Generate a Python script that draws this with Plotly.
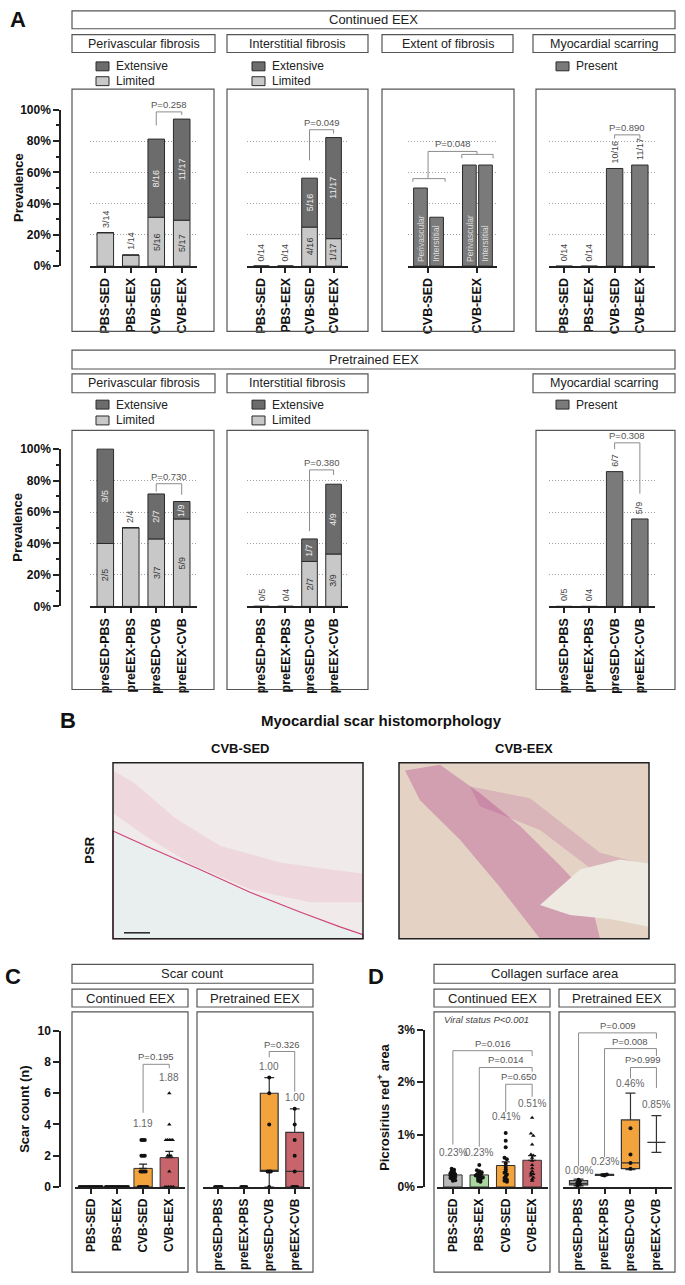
import plotly.graph_objects as go

W, H = 685, 1285
FONT = "Liberation Sans"

# ---------------- data ----------------
cont_groups = ["PBS-SED", "PBS-EEX", "CVB-SED", "CVB-EEX"]
pre_groups = ["preSED-PBS", "preEEX-PBS", "preSED-CVB", "preEEX-CVB"]

# A: prevalence (%) - continued EEX
peri_cont_limited = [21.4, 7.1, 31.3, 29.4]
peri_cont_extensive = [0, 0, 50.0, 64.7]
peri_cont_limited_n = ["3/14", "1/14", "5/16", "5/17"]
peri_cont_extensive_n = ["", "", "8/16", "11/17"]

inter_cont_limited = [0, 0, 25.0, 17.6]
inter_cont_extensive = [0, 0, 31.3, 64.7]
inter_cont_limited_n = ["0/14", "0/14", "4/16", "1/17"]
inter_cont_extensive_n = ["", "", "5/16", "11/17"]

extent_groups = ["CVB-SED", "CVB-EEX"]
extent_peri = [50.0, 64.7]
extent_inter = [31.3, 64.7]
extent_names = ["Perivascular", "Interstitial"]

scar_cont = [0, 0, 62.5, 64.7]
scar_cont_n = ["0/14", "0/14", "10/16", "11/17"]

# A: prevalence (%) - pretrained EEX
peri_pre_limited = [40.0, 50.0, 42.9, 55.6]
peri_pre_extensive = [60.0, 0, 28.6, 11.1]
peri_pre_limited_n = ["2/5", "2/4", "3/7", "5/9"]
peri_pre_extensive_n = ["3/5", "", "2/7", "1/9"]

inter_pre_limited = [0, 0, 28.6, 33.3]
inter_pre_extensive = [0, 0, 14.3, 44.4]
inter_pre_limited_n = ["0/5", "0/4", "2/7", "3/9"]
inter_pre_extensive_n = ["", "", "1/7", "4/9"]

scar_pre = [0, 0, 85.7, 55.6]
scar_pre_n = ["0/5", "0/4", "6/7", "5/9"]

# C: scar count
scar_count_cont_pts = [
    [0, 0, 0, 0, 0, 0, 0, 0, 0, 0, 0, 0, 0, 0],
    [0, 0, 0, 0, 0, 0, 0, 0, 0, 0, 0, 0, 0, 0],
    [0, 0, 0, 0, 0, 0, 1, 1, 1, 1, 2, 2, 2, 3, 3, 3],
    [0, 0, 0, 0, 0, 0, 1, 2, 2, 2, 3, 3, 3, 3, 3, 4, 6],
]
scar_count_cont_mean = [0, 0, 1.19, 1.88]
scar_count_cont_sem = [0, 0, 0.28, 0.40]
scar_count_cont_lbl = ["", "", "1.19", "1.88"]

scar_count_pre_pts = [
    [0, 0, 0, 0, 0],
    [0, 0, 0, 0],
    [0, 1, 1, 1, 4, 6, 7],
    [0, 0, 0, 0, 1, 2, 3, 4, 5],
]
scar_count_pre_q1 = [0, 0, 1, 0]
scar_count_pre_median = [0, 0, 1, 1]
scar_count_pre_q3 = [0, 0, 6, 3.5]
scar_count_pre_lo = [0, 0, 0, 0]
scar_count_pre_hi = [0, 0, 7, 5]
scar_count_pre_lbl = ["", "", "1.00", "1.00"]

# D: collagen surface area (%)
collagen_cont_pts = [
    [0.35, 0.33, 0.30, 0.28, 0.26, 0.25, 0.24, 0.22, 0.20, 0.19, 0.17, 0.15, 0.13, 0.12],
    [0.42, 0.32, 0.30, 0.28, 0.26, 0.24, 0.22, 0.20, 0.18, 0.18, 0.16, 0.14, 0.12, 0.10],
    [1.03, 0.88, 0.76, 0.56, 0.53, 0.45, 0.38, 0.34, 0.30, 0.27, 0.24, 0.20, 0.17, 0.14, 0.12, 0.10],
    [1.32, 1.02, 0.98, 0.81, 0.62, 0.60, 0.56, 0.50, 0.42, 0.36, 0.30, 0.26, 0.25, 0.22, 0.18, 0.15, 0.12],
]
collagen_cont_mean = [0.23, 0.23, 0.41, 0.51]
collagen_cont_sem = [0.02, 0.025, 0.07, 0.09]
collagen_cont_lbl = ["0.23%", "0.23%", "0.41%", "0.51%"]

collagen_pre_pts = [
    [0.03, 0.05, 0.08, 0.11, 0.14],
    [0.22, 0.23, 0.23, 0.24],
    [0.35, 0.46, 0.62, 1.12],
    [],
]
collagen_pre_q1 = [0.04, 0.22, 0.35, 0.85]
collagen_pre_median = [0.07, 0.23, 0.46, 0.85]
collagen_pre_q3 = [0.12, 0.24, 1.28, 0.85]
collagen_pre_lo = [0.02, 0.22, 0.33, 0.66]
collagen_pre_hi = [0.15, 0.24, 1.79, 1.36]
collagen_pre_lbl = ["0.09%", "0.23%", "0.46%", "0.85%"]

# ---------------- styles ----------------
LIMITED = "#c8c8c8"
EXTENSIVE = "#6c6c6c"
PRESENT = "#7a7a7a"
GROUP_COLORS = ["#b9b9b9", "#a9d69f", "#f2a33c", "#c8646b"]
EDGE = "#2b2b2b"
FRAME = "#555555"
BRACKET = "#8c8c8c"


def fx(p):
    return p / W


def fy(p):
    return 1 - p / H


traces = []
shapes = []
annotations = []
layout_axes = {}
ax_count = [0]


def add_axes(x0, x1, ytop, ybot, xrange, yrange, xopts=None, yopts=None):
    ax_count[0] += 1
    n = ax_count[0]
    sfx = "" if n == 1 else str(n)
    xa = dict(domain=[fx(x0), fx(x1)], range=xrange, anchor="y" + sfx,
              showgrid=False, zeroline=False, showticklabels=False, ticks="")
    ya = dict(domain=[fy(ybot), fy(ytop)], range=yrange, anchor="x" + sfx,
              showgrid=False, zeroline=False, showticklabels=False, ticks="")
    xa.update(xopts or {})
    ya.update(yopts or {})
    layout_axes["xaxis" + sfx] = xa
    layout_axes["yaxis" + sfx] = ya
    return "x" + sfx, "y" + sfx


def cat_x(labels, size=12.5, vals=None):
    return dict(showline=True, linecolor="#222", linewidth=1.5, ticks="outside", ticklen=5,
                tickwidth=1.5, tickcolor="#222", showticklabels=True,
                tickvals=vals if vals is not None else list(range(len(labels))),
                ticktext=labels, tickangle=-90,
                tickfont=dict(family=FONT, size=size, color="#111", weight="bold"))


grid_y = dict(tickvals=[20, 40, 60, 80], showgrid=True, gridcolor="#a0a0a0",
              griddash="1px,2px", gridwidth=1)


def value_axis(x, ytop, ybot, rng, vals, texts, minor=None):
    opts = dict(showline=True, linecolor="#222", linewidth=1.5, ticks="outside", ticklen=6,
                tickwidth=1.5, tickcolor="#222", showticklabels=True, tickvals=vals, ticktext=texts,
                tickfont=dict(family=FONT, size=12, color="#111", weight="bold"))
    if minor:
        opts["minor"] = dict(tickmode="linear", tick0=0, dtick=minor, ticks="outside",
                             ticklen=3, tickwidth=1.5, tickcolor="#222")
    xr, yr = add_axes(x, x + 1, ytop, ybot, [0, 1], rng, dict(visible=False), opts)
    # empty trace so the axis pair is drawn
    traces.append(go.Scatter(x=[], y=[], xaxis=xr, yaxis=yr, mode="markers"))


def top_range(y0, yfull, top, vfull):
    return (y0 - top) / (y0 - yfull) * vfull


def text(t, x, y, size=12, color="#222", bold=False, italic=False, angle=0,
         xanchor="center", yanchor="middle", xref="paper", yref="paper", yshift=0):
    if xref == "paper":
        x = fx(x)
    if yref == "paper":
        y = fy(y)
    annotations.append(dict(
        text=t, x=x, y=y, xref=xref, yref=yref, showarrow=False, textangle=angle,
        xanchor=xanchor, yanchor=yanchor, yshift=yshift,
        font=dict(family=FONT, size=size, color=color,
                  weight="bold" if bold else "normal",
                  style="italic" if italic else "normal")))


def frame(x0, x1, y0, y1, fill="rgba(0,0,0,0)", color=FRAME, width=1.2):
    shapes.append(dict(type="rect", xref="paper", yref="paper", x0=fx(x0), x1=fx(x1),
                       y0=fy(y1), y1=fy(y0), line=dict(color=color, width=width),
                       fillcolor=fill, layer="above"))


def header(x0, x1, y0, y1, label, size=13):
    frame(x0, x1, y0, y1, fill="white")
    text(label, (x0 + x1) / 2, (y0 + y1) / 2, size=size, color="#222")


def legend_item(x, y, color, label):
    shapes.append(dict(type="rect", xref="paper", yref="paper", x0=fx(x), x1=fx(x + 13),
                       y0=fy(y + 4.5), y1=fy(y - 4.5), fillcolor=color,
                       line=dict(color=EDGE, width=1)))
    text(label, x + 18, y, size=12, color="#222", xanchor="left")


def bracket(xr, yr, xl, xrt, ytop, yl, yrt, label):
    shapes.append(dict(type="path", xref=xr, yref=yr,
                       path=f"M {xl},{yl} L {xl},{ytop} L {xrt},{ytop} L {xrt},{yrt}",
                       line=dict(color=BRACKET, width=1)))
    text(label, (xl + xrt) / 2, ytop, size=9.5, color="#555", yanchor="bottom",
         xref=xr, yref=yr, yshift=0)


def bar_label_top(xr, yr, i, top, label):
    text(label, i, top, size=9, color="#444", angle=-90, yanchor="bottom",
         xref=xr, yref=yr, yshift=3)


def stacked_panel(xr, yr, limited, extensive, lim_n, ext_n):
    x = list(range(len(limited)))
    traces.append(go.Bar(x=x, y=limited, xaxis=xr, yaxis=yr, width=0.65,
                         marker=dict(color=LIMITED, line=dict(color=EDGE, width=1))))
    traces.append(go.Bar(x=x, y=extensive, base=limited, xaxis=xr, yaxis=yr, width=0.65,
                         marker=dict(color=EXTENSIVE, line=dict(color=EDGE, width=1))))
    for i in x:
        if extensive[i] > 0:
            text(lim_n[i], i, limited[i] / 2, size=9, color="#333", angle=-90, xref=xr, yref=yr)
            text(ext_n[i], i, limited[i] + extensive[i] / 2, size=9, color="#eeeeee",
                 angle=-90, xref=xr, yref=yr)
        else:
            bar_label_top(xr, yr, i, limited[i], lim_n[i])


def single_panel(xr, yr, values, labels):
    x = list(range(len(values)))
    traces.append(go.Bar(x=x, y=values, xaxis=xr, yaxis=yr, width=0.65,
                         marker=dict(color=PRESENT, line=dict(color=EDGE, width=1))))
    for i in x:
        bar_label_top(xr, yr, i, values[i], labels[i])


def spread(values, step, binw):
    keys = [round(v / binw) for v in values]
    counts = {}
    for k in keys:
        counts[k] = counts.get(k, 0) + 1
    seen = {}
    offs = []
    for k in keys:
        j = seen.get(k, 0)
        seen[k] = j + 1
        offs.append((j - (counts[k] - 1) / 2) * step)
    return offs


def points(xr, yr, groups_pts, step, binw, symbols):
    for i, vals in enumerate(groups_pts):
        if not vals:
            continue
        offs = spread(vals, step, binw)
        traces.append(go.Scatter(x=[i + o for o in offs], y=vals, xaxis=xr, yaxis=yr,
                                 mode="markers", cliponaxis=False,
                                 marker=dict(color="#111", size=4, symbol=symbols[i])))


def boxes(xr, yr, q1, med, q3, lo, hi):
    for i in range(len(q1)):
        if q3[i] == 0:
            continue
        traces.append(go.Box(x=[i], q1=[q1[i]], median=[med[i]], q3=[q3[i]],
                             lowerfence=[lo[i]], upperfence=[hi[i]], xaxis=xr, yaxis=yr,
                             width=0.7, whiskerwidth=0.55, fillcolor=GROUP_COLORS[i],
                             line=dict(color="#333", width=1.2), boxpoints=False))


# ================= Panel A =================
text("A", 18, 13, size=22, bold=True, color="#111")

A_blocks = [
    dict(y0=262, y100=104, top=86, head=(4, 22), sub=(28, 46), leg=(60, 75), box=(83, 328),
         title="Continued EEX", pre=False),
    dict(y0=606, y100=447, top=431, head=(347, 366), sub=(371, 390), leg=(402, 418), box=(428, 690),
         title="Pretrained EEX", pre=True),
]

for blk in A_blocks:
    y0, y100, top = blk["y0"], blk["y100"], blk["top"]
    rng = [0, top_range(y0, y100, top, 100)]
    header(72, 675, blk["head"][0], blk["head"][1], blk["title"])
    sy0, sy1 = blk["sub"]
    header(72, 215, sy0, sy1, "Perivascular fibrosis", size=12.5)
    header(227, 368, sy0, sy1, "Interstitial fibrosis", size=12.5)
    if not blk["pre"]:
        header(382, 513, sy0, sy1, "Extent of fibrosis", size=12.5)
    header(533, 675, sy0, sy1, "Myocardial scarring", size=12.5)

    ly1, ly2 = blk["leg"]
    legend_item(96, ly1, EXTENSIVE, "Extensive")
    legend_item(96, ly2, LIMITED, "Limited")
    legend_item(252, ly1, EXTENSIVE, "Extensive")
    legend_item(252, ly2, LIMITED, "Limited")
    legend_item(556, ly1, PRESENT, "Present")

    by0, by1 = blk["box"]
    frame(72, 214, by0, by1)
    frame(227, 368, by0, by1)
    if not blk["pre"]:
        frame(382, 514, by0, by1)
    frame(536, 675, by0, by1)

    value_axis(61, y100, y0, [0, 100], [0, 20, 40, 60, 80, 100],
               ["0%", "20%", "40%", "60%", "80%", "100%"], minor=10)
    text("Prevalence", 18, (y0 + y100) / 2, size=13, bold=True, angle=-90, color="#111")

    groups = pre_groups if blk["pre"] else cont_groups
    xr, yr = add_axes(90, 197, top, y0, [-0.6, 3.6], rng, cat_x(groups), grid_y)
    if blk["pre"]:
        stacked_panel(xr, yr, peri_pre_limited, peri_pre_extensive, peri_pre_limited_n, peri_pre_extensive_n)
        bracket(xr, yr, 2, 3, 78, 73, 71, "P=0.730")
    else:
        stacked_panel(xr, yr, peri_cont_limited, peri_cont_extensive, peri_cont_limited_n, peri_cont_extensive_n)
        bracket(xr, yr, 2, 3, 98.7, 90, 96.8, "P=0.258")

    xr, yr = add_axes(247, 348, top, y0, [-0.6, 3.6], rng, cat_x(groups), grid_y)
    if blk["pre"]:
        stacked_panel(xr, yr, inter_pre_limited, inter_pre_extensive, inter_pre_limited_n, inter_pre_extensive_n)
        bracket(xr, yr, 2, 3, 86.8, 47.8, 83.6, "P=0.380")
    else:
        stacked_panel(xr, yr, inter_cont_limited, inter_cont_extensive, inter_cont_limited_n, inter_cont_extensive_n)
        bracket(xr, yr, 2, 3, 87.3, 67.7, 84.8, "P=0.049")

    if not blk["pre"]:
        xr, yr = add_axes(408, 497, top, y0, [-0.41, 1.41], rng,
                          cat_x(extent_groups, vals=[0, 1]), grid_y)
        gx = list(range(len(extent_groups)))
        for vals, off, name in [(extent_peri, -0.155, extent_names[0]),
                                (extent_inter, 0.175, extent_names[1])]:
            xs = [g + off for g in gx]
            traces.append(go.Bar(x=xs, y=vals, xaxis=xr, yaxis=yr, width=0.28,
                                 marker=dict(color=PRESENT, line=dict(color=EDGE, width=1))))
            for xv in xs:
                text(name, xv, 0, size=8.5, color="#dcdcdc", angle=-90, yanchor="bottom",
                     xref=xr, yref=yr, yshift=2)
        # group brackets for the extent panel
        for path in ["M -0.31,54 L -0.31,56 L 0.35,56 L 0.35,54",
                     "M 0,56 L 0,73.4 L 1,73.4 L 1,71.5",
                     "M 0.69,69 L 0.69,71.5 L 1.33,71.5 L 1.33,69"]:
            shapes.append(dict(type="path", xref=xr, yref=yr, path=path,
                               line=dict(color=BRACKET, width=1)))
        text("P=0.048", 0.5, 73.4, size=9.5, color="#555", yanchor="bottom", xref=xr, yref=yr)

    xr, yr = add_axes(549, 655, top, y0, [-0.6, 3.6], rng, cat_x(groups), grid_y)
    if blk["pre"]:
        single_panel(xr, yr, scar_pre, scar_pre_n)
        bracket(xr, yr, 2, 3, 104, 100, 71.7, "P=0.308")
    else:
        single_panel(xr, yr, scar_cont, scar_cont_n)
        bracket(xr, yr, 2, 3, 84, 81.6, 81.6, "P=0.890")

# ================= Panel B =================
text("B", 68, 721, size=22, bold=True, color="#111")
text("Myocardial scar histomorphology", 381, 721, size=15, bold=True, color="#111")
text("CVB-SED", 240, 750, size=13, bold=True, color="#111")
text("CVB-EEX", 524, 750, size=13, bold=True, color="#111")
text("PSR", 90, 853, size=13, bold=True, angle=-90, color="#111")


def px_path(pts):
    return "M " + " L ".join(f"{fx(a)},{fy(b)}" for a, b in pts) + " Z"


# left micrograph (light tissue, pink fibres, cavity lower-left)
shapes.append(dict(type="rect", xref="paper", yref="paper", x0=fx(113), x1=fx(363), y0=fy(942), y1=fy(764),
                   fillcolor="#f0eaea", line=dict(width=0), layer="below"))
shapes.append(dict(type="path", xref="paper", yref="paper", layer="below", line=dict(width=0),
                   fillcolor="rgba(222,90,140,0.13)",
                   path=px_path([(113, 772), (135, 785), (175, 820), (220, 848), (280, 865), (330, 872),
                                 (363, 876), (363, 905), (310, 905), (250, 892), (190, 866), (145, 838),
                                 (113, 815)])))
shapes.append(dict(type="path", xref="paper", yref="paper", layer="below",
                   line=dict(color="#d0457a", width=1.2), fillcolor="#e9eeee",
                   path=px_path([(113, 833), (150, 850), (200, 872), (250, 895), (300, 915), (340, 930),
                                 (363, 938), (363, 942), (113, 942)])))
shapes.append(dict(type="line", xref="paper", yref="paper", x0=fx(124), x1=fx(150), y0=fy(936), y1=fy(936),
                   line=dict(color="#222", width=1.5)))
frame(113, 363, 764, 942, color="#222", width=1.5)

# right micrograph (tan tissue, magenta scar band, cavity right)
shapes.append(dict(type="rect", xref="paper", yref="paper", x0=fx(399), x1=fx(649), y0=fy(942), y1=fy(764),
                   fillcolor="#e4d3c5", line=dict(width=0), layer="below"))
shapes.append(dict(type="path", xref="paper", yref="paper", layer="below", line=dict(width=0),
                   fillcolor="rgba(165,40,130,0.30)",
                   path=px_path([(405, 772), (440, 766), (480, 795), (520, 828), (560, 868), (590, 900),
                                 (600, 942), (540, 942), (500, 890), (460, 842), (420, 802)])))
shapes.append(dict(type="path", xref="paper", yref="paper", layer="below", line=dict(width=0),
                   fillcolor="rgba(165,40,130,0.18)",
                   path=px_path([(470, 788), (530, 800), (600, 855), (649, 868), (649, 888), (600, 878),
                                 (540, 832), (480, 808)])))
shapes.append(dict(type="path", xref="paper", yref="paper", layer="below", line=dict(width=0),
                   fillcolor="#eeeae2",
                   path=px_path([(540, 908), (580, 872), (620, 862), (649, 866), (649, 930), (610, 922),
                                 (570, 918)])))
frame(399, 649, 764, 942, color="#222", width=1.5)

# ================= Panel C =================
text("C", 13, 980, size=22, bold=True, color="#111")
header(72, 313, 968, 987, "Scar count")
header(72, 188, 993, 1011, "Continued EEX")
header(197, 313, 993, 1011, "Pretrained EEX")
frame(72, 188, 1016, 1279)
frame(197, 313, 1016, 1279)
value_axis(61, 1035, 1193, [0, 10], [0, 2, 4, 6, 8, 10], ["0", "2", "4", "6", "8", "10"])
text("Scar count (n)", 25, 1114, size=13, bold=True, angle=-90, color="#111")
c_rng = [0, top_range(1193, 1035, 1018, 10)]

xr, yr = add_axes(75, 185, 1018, 1193, [-0.6, 3.6], c_rng, cat_x(cont_groups, size=12))
traces.append(go.Bar(x=[0, 1, 2, 3], y=scar_count_cont_mean, xaxis=xr, yaxis=yr, width=0.7,
                     marker=dict(color=GROUP_COLORS, line=dict(color="#333", width=1)),
                     error_y=dict(type="data", array=scar_count_cont_sem,
                                  arrayminus=[0, 0, 0, 0], symmetric=False,
                                  color="#222", thickness=1.2, width=4)))
points(xr, yr, scar_count_cont_pts, 0.065, 1, ["circle", "circle", "circle", "triangle-up"])
for i, lbl in enumerate(scar_count_cont_lbl):
    if lbl:
        text(lbl, i, [0, 0, 4.05, 7.0][i], size=10, color="#666", xref=xr, yref=yr)
bracket(xr, yr, 2, 3, 7.85, 4.75, 7.6, "P=0.195")

xr, yr = add_axes(203, 310, 1018, 1193, [-0.6, 3.6], c_rng, cat_x(pre_groups, size=12))
boxes(xr, yr, scar_count_pre_q1, scar_count_pre_median, scar_count_pre_q3,
      scar_count_pre_lo, scar_count_pre_hi)
points(xr, yr, scar_count_pre_pts, 0.065, 1, ["circle"] * 4)
for i, lbl in enumerate(scar_count_pre_lbl):
    if lbl:
        text(lbl, i, [0, 0, 7.7, 5.7][i], size=10, color="#666", xref=xr, yref=yr)
bracket(xr, yr, 2, 3, 8.67, 8.3, 6.1, "P=0.326")

# ================= Panel D =================
text("D", 376, 980, size=22, bold=True, color="#111")
header(434, 675, 968, 987, "Collagen surface area")
header(434, 550, 993, 1011, "Continued EEX")
header(559, 675, 993, 1011, "Pretrained EEX")
frame(434, 550, 1016, 1279)
frame(559, 675, 1016, 1279)
value_axis(425, 1034, 1193, [0, 3], [0, 1, 2, 3], ["0%", "1%", "2%", "3%"])
text("Picrosirius red<sup>+</sup> area", 383, 1113, size=13, bold=True, angle=-90, color="#111")
text("Viral status P<0.001", 442, 1024, size=9.5, italic=True, color="#444", xanchor="left")
d_rng = [0, top_range(1193, 1034, 1018, 3)]

xr, yr = add_axes(437, 548, 1018, 1193, [-0.6, 3.6], d_rng, cat_x(cont_groups, size=12))
traces.append(go.Bar(x=[0, 1, 2, 3], y=collagen_cont_mean, xaxis=xr, yaxis=yr, width=0.7,
                     marker=dict(color=GROUP_COLORS, line=dict(color="#333", width=1)),
                     error_y=dict(type="data", array=collagen_cont_sem,
                                  arrayminus=[0, 0, 0, 0], symmetric=False,
                                  color="#222", thickness=1.2, width=4)))
points(xr, yr, collagen_cont_pts, 0.09, 0.05, ["circle", "circle", "circle", "triangle-up"])
for i, lbl in enumerate(collagen_cont_lbl):
    text(lbl, i, [0.66, 0.66, 1.34, 1.6][i], size=10, color="#666", xref=xr, yref=yr)
bracket(xr, yr, 0, 3, 2.6, 0.81, 2.5, "P=0.016")
bracket(xr, yr, 1, 3, 2.28, 0.77, 2.2, "P=0.014")
bracket(xr, yr, 2, 3, 1.96, 1.43, 1.72, "P=0.650")

xr, yr = add_axes(563, 672, 1018, 1193, [-0.6, 3.6], d_rng, cat_x(pre_groups, size=12))
boxes(xr, yr, collagen_pre_q1, collagen_pre_median, collagen_pre_q3,
      collagen_pre_lo, collagen_pre_hi)
points(xr, yr, collagen_pre_pts, 0.09, 0.05, ["circle"] * 4)
for i, lbl in enumerate(collagen_pre_lbl):
    text(lbl, i, [0.32, 0.49, 1.98, 1.57][i], size=10, color="#666", xref=xr, yref=yr)
bracket(xr, yr, 0, 3, 2.94, 0.4, 2.83, "P=0.009")
bracket(xr, yr, 1, 3, 2.64, 0.57, 2.5, "P=0.008")
bracket(xr, yr, 2, 3, 2.28, 2.07, 1.89, "P>0.999")

# ================= figure =================
fig = go.Figure(data=traces)
fig.update_traces(hoverinfo="skip", showlegend=False)
fig.update_layout(
    width=W, height=H, margin=dict(l=0, r=0, t=0, b=0),
    paper_bgcolor="white", plot_bgcolor="white",
    barmode="overlay", boxmode="overlay", showlegend=False,
    font=dict(family=FONT, size=12, color="#222"),
    shapes=shapes, annotations=annotations, **layout_axes,
)
# page body margin would otherwise push the figure 8px right/down
fig.write_html("out.html", config=dict(displayModeBar=False),
               post_script="document.body.style.margin='0px';document.body.style.overflow='hidden';")
